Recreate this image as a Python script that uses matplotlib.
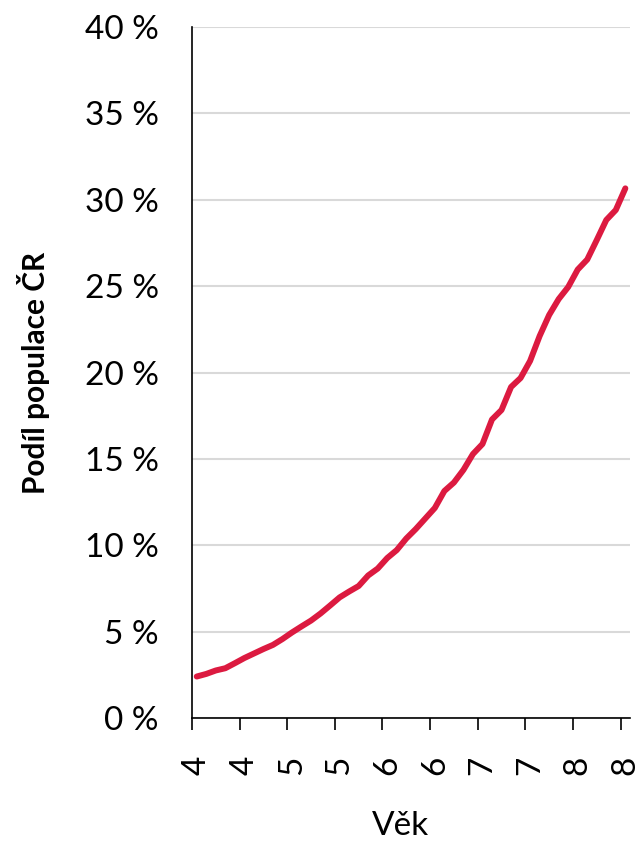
import numpy as np
import matplotlib
matplotlib.use('Agg')
import matplotlib.pyplot as plt
from matplotlib.ticker import FixedLocator, FuncFormatter

plt.rcParams['font.family'] = ['Lato', 'DejaVu Sans']

# věk 40..85 (kategorie), podíl v %
ages = list(range(40, 86))
share = [2.40, 2.55, 2.75, 2.88, 3.17, 3.47, 3.73, 3.99, 4.23, 4.57,
         4.95, 5.30, 5.64, 6.05, 6.51, 6.98, 7.32, 7.64, 8.25, 8.65,
         9.26, 9.72, 10.39, 10.94, 11.55, 12.16, 13.14, 13.63, 14.36, 15.28,
         15.86, 17.28, 17.83, 19.16, 19.68, 20.67, 22.11, 23.33, 24.25, 24.95,
         25.96, 26.54, 27.67, 28.83, 29.41, 30.66]
label_every = 5
tick_labels = ['4', '4', '5', '5', '6', '6', '7', '7', '8', '8']
y_ticks = [0, 5, 10, 15, 20, 25, 30, 35, 40]

fig = plt.figure(figsize=(6.41, 8.42), dpi=100)
ax = fig.add_axes([0.2995, 0.1473, 0.6835, 0.8206])

x = np.arange(len(ages))
ax.plot(x, share, color='#dc1a40', lw=4.3, solid_capstyle='round', zorder=3)

ax.set_xlim(-0.5, len(ages) - 0.5)
ax.set_ylim(0, 40)

# tick marks between categories, labels centred on categories
ax.xaxis.set_major_locator(FixedLocator(np.arange(-0.5, len(ages), label_every)))
ax.xaxis.set_minor_locator(FixedLocator(x[::label_every]))
ax.xaxis.set_major_formatter(FuncFormatter(lambda v, p: ''))
ax.set_xticklabels(tick_labels, minor=True, rotation=90, fontsize=24)
ax.tick_params(axis='x', which='major', length=8.6, width=1.2, color='#000000')
ax.tick_params(axis='x', which='minor', length=0, pad=27)

ax.set_yticks(y_ticks)
ax.set_yticklabels([f'{v} %' for v in y_ticks], fontsize=24)
ax.tick_params(axis='y', length=0, pad=24)
ax.yaxis.grid(True, color='#d9d9d9', lw=1.5)
ax.set_axisbelow(True)

for s in ('top', 'right'):
    ax.spines[s].set_visible(False)
for s in ('left', 'bottom'):
    ax.spines[s].set_color('#000000')
    ax.spines[s].set_linewidth(1.2)

ax.set_xlabel('Věk', fontsize=24, labelpad=26)
ax.xaxis.label.set_x(0.475)
ax.set_ylabel('Podíl populace ČR', fontsize=21.5, fontweight='bold', labelpad=25)

fig.savefig('out.png', dpi=100, facecolor='white')
